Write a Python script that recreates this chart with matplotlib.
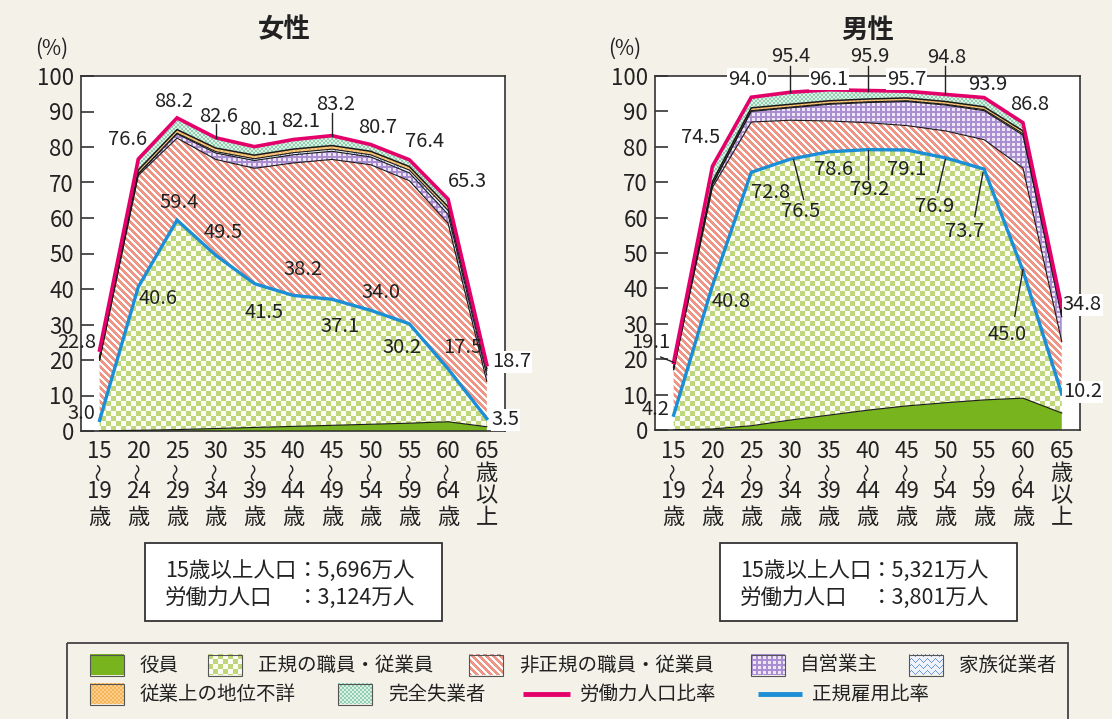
import numpy as np
import matplotlib
matplotlib.use("Agg")
import matplotlib.pyplot as plt
import matplotlib.colors as mcolors
from matplotlib.patches import Rectangle

plt.rcParams['font.family'] = ['Noto Sans CJK JP', 'DejaVu Sans']

# ---------------- data ----------------
ages = ["15～19歳", "20～24歳", "25～29歳", "30～34歳", "35～39歳", "40～44歳",
        "45～49歳", "50～54歳", "55～59歳", "60～64歳", "65歳以上"]

w_labor_ratio = [22.8, 76.6, 88.2, 82.6, 80.1, 82.1, 83.2, 80.7, 76.4, 65.3, 18.7]
w_regular_ratio = [3.0, 40.6, 59.4, 49.5, 41.5, 38.2, 37.1, 34.0, 30.2, 17.5, 3.5]
w_officer = [0.05, 0.2, 0.4, 0.7, 1.0, 1.3, 1.6, 1.9, 2.2, 2.6, 1.2]
w_regular = [2.95, 40.4, 59.0, 48.8, 40.5, 36.9, 35.5, 32.1, 28.0, 14.9, 2.3]
w_nonregular = [17.0, 31.4, 23.1, 27.0, 32.5, 37.3, 39.4, 41.0, 40.3, 41.0, 10.5]
w_selfemp = [0.05, 0.4, 1.2, 1.8, 2.2, 2.3, 2.3, 2.2, 2.2, 2.5, 1.8]
w_family = [0.02, 0.1, 0.2, 0.4, 0.5, 0.6, 0.6, 0.6, 0.8, 1.2, 1.2]
w_unknown = [0.8, 1.0, 1.0, 1.0, 1.0, 1.0, 1.0, 1.0, 1.0, 1.0, 0.6]
w_unemployed = [1.93, 3.1, 3.3, 2.9, 2.4, 2.7, 2.8, 1.9, 1.9, 2.1, 1.1]

m_labor_ratio = [19.1, 74.5, 94.0, 95.4, 96.1, 95.9, 95.7, 94.8, 93.9, 86.8, 34.8]
m_regular_ratio = [4.2, 40.8, 72.8, 76.5, 78.6, 79.2, 79.1, 76.9, 73.7, 45.0, 10.2]
m_officer = [0.05, 0.3, 1.2, 2.8, 4.2, 5.6, 6.8, 7.7, 8.5, 9.0, 4.8]
m_regular = [4.15, 40.5, 71.6, 73.7, 74.4, 73.6, 72.3, 69.2, 65.2, 36.0, 5.4]
m_nonregular = [12.8, 27.7, 14.2, 11.0, 8.7, 7.6, 6.9, 7.6, 8.3, 29.0, 14.8]
m_selfemp = [0.1, 0.8, 3.0, 3.5, 4.7, 5.7, 6.8, 7.3, 8.2, 9.3, 7.0]
m_family = [0.0, 0.1, 0.2, 0.2, 0.2, 0.2, 0.2, 0.2, 0.3, 0.4, 0.3]
m_unknown = [0.7, 0.8, 0.8, 0.8, 0.8, 0.8, 0.8, 0.8, 0.8, 0.8, 0.8]
m_unemployed = [1.3, 4.3, 3.0, 3.4, 3.1, 2.4, 1.9, 2.0, 2.6, 2.3, 1.7]

layer_names = ["役員", "正規の職員・従業員", "非正規の職員・従業員", "自営業主",
               "家族従業者", "従業上の地位不詳", "完全失業者"]
line_names = ["労働力人口比率", "正規雇用比率"]
titles = ["女性", "男性"]
pop15_text = ["5,696万人", "5,321万人"]
labor_pop_text = ["3,124万人", "3,801万人"]

# ---------------- styles ----------------
BG = '#f4f1e9'
MAGENTA = '#e4006b'
BLUE = '#1b8ed6'
layer_kinds = ['solid', 'checker', 'stripe', 'grid', 'wave', 'orange', 'mint']


def rgb(h):
    return np.array(mcolors.to_rgb(h))


def texture(kind, h, w):
    r, c = np.mgrid[0:h, 0:w]
    img = np.ones((h, w, 3))
    if kind == 'solid':
        img[:] = rgb('#78b41e')
    elif kind == 'checker':
        m = ((r // 5 + c // 5) % 2) == 0
        img[m] = rgb('#c0d67a')
        img[~m] = rgb('#fbfdf5')
    elif kind == 'stripe':
        m = ((c - r) % 7) < 4
        img[m] = rgb('#ee9585')
        img[~m] = rgb('#ffffff')
    elif kind == 'grid':
        m = ((r % 5) < 2) | ((c % 5) < 2)
        img[m] = rgb('#a98fd2')
        img[~m] = rgb('#eee6f6')
    elif kind == 'wave':
        img[:] = rgb('#eef3fb')
        m = ((r + np.round(1.5 * np.sin(c * 2 * np.pi / 8)).astype(int)) % 6) == 0
        img[m] = rgb('#7095d8')
    elif kind == 'orange':
        m = ((r // 2 + c // 2) % 2) == 0
        img[m] = rgb('#f6b356')
        img[~m] = rgb('#fbd08f')
    elif kind == 'mint':
        m = ((r // 2 + c // 2) % 2) == 0
        img[m] = rgb('#8fcfb0')
        img[~m] = rgb('#dcf2e6')
    return img


FIG_W, FIG_H = 1112, 719
fig = plt.figure(figsize=(FIG_W / 100, FIG_H / 100), dpi=100, facecolor=BG)
XLIM = (-0.48, 10.47)


def px_axes(l, t, r, b):
    return fig.add_axes([l / FIG_W, 1 - b / FIG_H, (r - l) / FIG_W, (b - t) / FIG_H])


def draw_panel(box, layers, labor, regular, labor_pos, reg_pos, leaders, boxed):
    l, t, r, b = box
    ax = px_axes(l, t, r, b)
    W, H = int(round(r - l)), int(round(b - t))
    x = np.arange(len(ages))
    vals = np.array(layers, dtype=float)
    tops = np.cumsum(vals, axis=0)
    bottoms = np.vstack([np.zeros(len(x)), tops[:-1]])
    for i, kind in enumerate(layer_kinds):
        poly = ax.fill_between(x, bottoms[i], tops[i], facecolor='none',
                               edgecolor='none', linewidth=0, zorder=1)
        im = ax.imshow(texture(kind, H, W), extent=(XLIM[0], XLIM[1], 0, 100),
                       aspect='auto', interpolation='nearest', zorder=1)
        im.set_clip_path(poly.get_paths()[0], ax.transData)
    # layer boundary lines
    for i in [0, 2, 3, 4, 5]:
        ax.plot(x, tops[i], color='#1a1a1a', lw=0.8 if i != 5 else 1.1, zorder=3)
    ax.plot(x, regular, color=BLUE, lw=2.4, zorder=5, solid_joinstyle='miter')
    ax.plot(x, labor, color=MAGENTA, lw=2.6, zorder=6, solid_joinstyle='miter')

    ax.set_xlim(*XLIM)
    ax.set_ylim(0, 100)
    ax.set_facecolor('white')
    for s in ax.spines.values():
        s.set_color('#333333')
        s.set_linewidth(1.2)
    ax.set_yticks(np.arange(0, 101, 10))
    ax.tick_params(axis='y', direction='in', length=9, width=1.1, labelsize=16,
                   pad=5, colors='#222222')
    ax.set_xticks([])

    # value labels
    for i, (px, py, ha) in enumerate(labor_pos):
        bb = dict(facecolor='white', edgecolor='none', pad=0.5) if ('L', i) in boxed else None
        ax.text(px, py, f"{labor[i]:.1f}", ha=ha, va='center', fontsize=14.5,
                color='#222222', zorder=8, clip_on=False, bbox=bb)
    for i, (px, py, ha) in enumerate(reg_pos):
        bb = dict(facecolor='white', edgecolor='none', pad=0.5) if ('R', i) in boxed else None
        ax.text(px, py, f"{regular[i]:.1f}", ha=ha, va='center', fontsize=14.5,
                color='#222222', zorder=8, clip_on=False, bbox=bb)
    for (x0, y0, x1, y1) in leaders:
        ax.plot([x0, x1], [y0, y1], color='#222222', lw=1.0, zorder=7, clip_on=False)

    # category labels (vertical)
    for i, lab in enumerate(ages):
        if '～' in lab:
            a, bb2 = lab.rstrip('歳').split('～')
            parts = [(a, 452, 0), ('～', 472, 90), (bb2, 492, 0), ('歳', 517, 0)]
        else:
            a = lab.split('歳')[0]
            rest = lab[len(a):]
            parts = [(a, 452, 0), (rest[0], 474, 0), (rest[1], 496, 0), (rest[2], 518, 0)]
        for txt, ypx, rot in parts:
            ax.text(i, (b - ypx) / H, txt, transform=ax.get_xaxis_transform(),
                    ha='center', va='center', fontsize=16 if rot == 0 else 13,
                    rotation=rot, color='#222222', clip_on=False)
    return ax


# label placements (data coords)
w_labor_pos = [(-0.6, 25.0, 'center'), (0.73, 82.2, 'center'), (1.9, 92.7, 'center'),
               (3.07, 88.7, 'center'), (4.1, 85.0, 'center'), (5.2, 87.3, 'center'),
               (6.1, 92.1, 'center'), (7.17, 85.6, 'center'), (8.4, 81.6, 'center'),
               (9.5, 70.3, 'center'), (10.13, 19.5, 'left')]
w_reg_pos = [(-0.47, 4.8, 'center'), (1.5, 37.3, 'center'), (2.05, 64.4, 'center'),
             (3.2, 55.9, 'center'), (4.25, 33.3, 'center'), (5.25, 45.5, 'center'),
             (6.2, 29.4, 'center'), (7.27, 39.0, 'center'), (7.8, 23.4, 'center'),
             (9.37, 23.4, 'center'), (10.13, 3.1, 'left')]
w_leaders = [(3.0, 86.4, 3.0, 82.6), (6.0, 89.5, 6.0, 83.2)]
w_boxed = {('L', 10), ('R', 10)}

m_labor_pos = [(-0.59, 24.8, 'center'), (0.69, 82.6, 'center'), (1.9, 99.1, 'center'),
               (3.03, 105.6, 'center'), (4.0, 99.1, 'center'), (5.06, 105.6, 'center'),
               (6.0, 99.1, 'center'), (7.04, 105.3, 'center'), (8.1, 97.6, 'center'),
               (9.18, 92.0, 'center'), (10.03, 35.4, 'left')]
m_reg_pos = [(-0.46, 5.9, 'center'), (1.47, 36.2, 'center'), (2.5, 67.1, 'center'),
             (3.26, 61.7, 'center'), (4.12, 73.6, 'center'), (5.06, 67.9, 'center'),
             (6.0, 73.6, 'center'), (6.73, 63.1, 'center'), (7.5, 56.0, 'center'),
             (8.59, 26.9, 'center'), (10.03, 10.8, 'left')]
m_leaders = [(-0.33, 20.6, 0.0, 19.1), (3.0, 102.8, 3.0, 95.4), (5.0, 102.8, 5.0, 95.9),
             (7.0, 102.8, 7.0, 94.8), (3.09, 76.4, 3.35, 65.1), (5.0, 79.2, 5.0, 70.8),
             (7.0, 76.4, 6.8, 67.1), (7.97, 72.7, 7.76, 60.3), (9.0, 45.3, 8.79, 32.1)]
m_boxed = {('L', 2), ('L', 4), ('L', 6), ('L', 10), ('R', 10)}

w_layers = [w_officer, w_regular, w_nonregular, w_selfemp, w_family, w_unknown, w_unemployed]
m_layers = [m_officer, m_regular, m_nonregular, m_selfemp, m_family, m_unknown, m_unemployed]

draw_panel((81, 76, 505, 431), w_layers, w_labor_ratio, w_regular_ratio,
           w_labor_pos, w_reg_pos, w_leaders, w_boxed)
draw_panel((655, 76, 1080, 430), m_layers, m_labor_ratio, m_regular_ratio,
           m_labor_pos, m_reg_pos, m_leaders, m_boxed)

# ---------------- overlay (titles, boxes, legend) ----------------
ov = fig.add_axes([0, 0, 1, 1])
ov.set_xlim(0, FIG_W)
ov.set_ylim(FIG_H, 0)
ov.axis('off')
ov.patch.set_visible(False)

for cx, title in zip([284, 868], titles):
    ov.text(cx, 30, title, ha='center', va='center', fontsize=19, fontweight='bold',
            color='#222222')
for cx in [52, 625]:
    ov.text(cx, 49, "(%)", ha='center', va='center', fontsize=15, color='#222222')

for (bl, bt, br, bbm, tx, cx), p15, lp in zip(
        [(145, 543, 442, 621, 165, 297), (720, 543, 1017, 621, 740, 871)],
        pop15_text, labor_pop_text):
    ov.add_patch(Rectangle((bl, bt), br - bl, bbm - bt, facecolor='white',
                           edgecolor='#333333', lw=1.3))
    ov.text(tx, 571, "15歳以上人口", ha='left', va='center', fontsize=15.5, color='#222222')
    ov.text(cx, 571, "：" + p15, ha='left', va='center', fontsize=15.5, color='#222222')
    ov.text(tx, 598, "労働力人口", ha='left', va='center', fontsize=15.5, color='#222222')
    ov.text(cx, 598, "：" + lp, ha='left', va='center', fontsize=15.5, color='#222222')

# legend
ov.add_patch(Rectangle((67, 643), 1001, 100, facecolor='none', edgecolor='#444444', lw=1.3))
sw_w, sw_h = 34, 21
legend_swatches = [(90, 665, 140), (208, 665, 258), (469, 665, 519), (751, 665, 800),
                   (909, 665, 959), (90, 694, 140), (338, 694, 388)]
for (sx, sy, tx), kind, name in zip(legend_swatches, layer_kinds, layer_names):
    ov.imshow(texture(kind, sw_h, sw_w), extent=(sx, sx + sw_w, sy + sw_h / 2, sy - sw_h / 2),
              interpolation='nearest', aspect='auto', zorder=2)
    ov.add_patch(Rectangle((sx, sy - sw_h / 2), sw_w, sw_h, facecolor='none',
                           edgecolor='#555555', lw=0.8, zorder=3))
    ov.text(tx, sy, name, ha='left', va='center', fontsize=14, color='#222222')
for (x0, x1, tx), col, name in zip([(523, 570, 580), (758, 802, 812)], [MAGENTA, BLUE], line_names):
    ov.plot([x0, x1], [694, 694], color=col, lw=3.5, solid_capstyle='butt')
    ov.text(tx, 694, name, ha='left', va='center', fontsize=14, color='#222222')
ov.set_xlim(0, FIG_W)
ov.set_ylim(FIG_H, 0)

fig.savefig("out.png", dpi=100, facecolor=BG)
